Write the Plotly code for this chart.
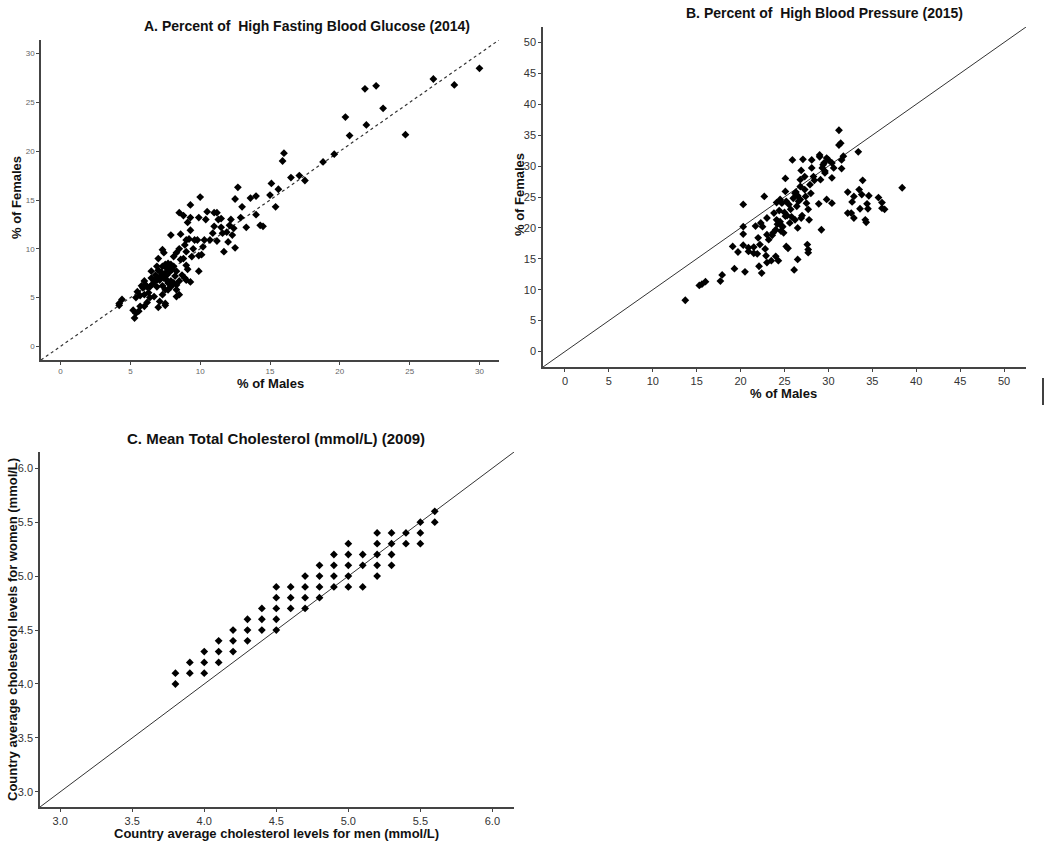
import plotly.graph_objects as go

# A. High fasting blood glucose (2014), % of males vs % of females
glucose_male = [
    30.0, 28.2, 26.7, 24.7, 23.1, 22.6, 21.8, 21.9, 20.7, 20.4, 19.6, 18.8, 17.5, 17.1,
    16.5, 16.0, 15.9, 15.6, 15.1, 15.0, 15.4, 14.0, 13.6, 14.0, 14.3, 14.5, 13.3, 13.0,
    12.9, 12.7, 12.5, 12.5, 12.4, 12.3, 12.2, 12.1, 11.9, 12.0, 11.7, 11.6, 11.5, 11.5,
    11.3, 11.2, 11.0, 11.0, 11.2, 10.9, 10.7, 10.5, 10.4, 10.3, 10.2, 10.0, 9.9, 9.8,
    10.1, 9.9, 9.6, 9.9, 9.5, 9.3, 9.3, 9.3, 9.2, 9.0, 9.0, 9.4, 9.1, 8.8, 8.5, 8.6,
    8.9, 9.0, 9.1, 9.3, 9.0, 8.9, 7.9, 8.5, 8.3, 8.6, 8.8, 8.1, 7.3, 7.4, 7.0, 8.7,
    8.3, 8.5, 8.3, 8.5, 8.3, 8.1, 7.7, 7.8, 7.6, 7.5, 7.3, 7.4, 7.1, 7.0, 6.9, 7.3,
    7.5, 7.3, 6.9, 6.7, 6.5, 6.5, 6.2, 6.0, 5.8, 6.3, 6.7, 6.4, 6.0, 5.7, 5.5, 5.4,
    6.2, 6.0, 5.7, 5.6, 5.4, 5.3, 5.2, 7.0, 7.1, 7.5, 7.5, 4.4, 4.2, 4.2, 7.7, 7.9,
    8.1, 7.9, 7.7, 7.6, 7.9, 6.8, 6.4, 8.3, 8.2, 6.0, 6.9, 7.6, 7.5, 7.3, 7.2, 7.4,
    7.1, 7.6, 7.8, 6.6, 6.8, 8.0, 5.9, 6.1,
]
glucose_female = [
    28.5, 26.8, 27.4, 21.7, 24.4, 26.7, 26.4, 22.7, 21.6, 23.5, 19.7, 18.9, 17.0, 17.5,
    17.3, 19.8, 19.0, 16.1, 16.7, 15.5, 14.3, 15.4, 15.2, 13.5, 12.4, 12.3, 12.2, 14.3,
    13.2, 16.3, 15.1, 10.1, 12.1, 11.4, 13.0, 12.4, 11.7, 10.7, 9.7, 11.6, 12.2, 13.1,
    13.0, 13.7, 13.7, 12.3, 10.8, 11.6, 10.9, 13.8, 13.0, 10.9, 10.2, 15.3, 13.2, 10.9,
    9.4, 9.3, 10.9, 7.7, 10.0, 14.5, 13.2, 11.9, 11.0, 10.9, 9.7, 9.2, 12.7, 13.4, 13.7,
    11.5, 10.4, 8.3, 7.9, 6.6, 6.8, 7.0, 11.4, 10.0, 9.6, 8.9, 9.0, 9.2, 9.9, 9.6, 9.0,
    7.3, 7.7, 6.7, 5.8, 5.3, 5.1, 8.2, 8.5, 7.9, 7.3, 7.5, 7.2, 7.0, 6.8, 7.8, 8.2, 6.2,
    5.8, 5.3, 6.1, 6.6, 7.7, 7.0, 6.1, 6.7, 6.2, 5.5, 5.1, 5.0, 5.3, 5.2, 5.6, 5.0,
    4.5, 4.1, 4.1, 3.6, 3.4, 2.9, 3.7, 4.0, 4.6, 4.4, 4.2, 4.8, 4.4, 4.2, 5.8, 6.1,
    6.5, 6.7, 6.5, 8.0, 8.4, 7.3, 6.1, 6.3, 7.2, 6.1, 6.8, 6.8, 8.4, 8.2, 7.6, 7.4,
    7.1, 7.3, 7.6, 6.4, 6.9, 7.9, 6.0, 6.3,
]

# B. High blood pressure (2015), % of males vs % of females
bp_male = [
    13.7, 15.3, 15.6, 16.0, 17.7, 17.9, 19.3, 19.1, 19.7, 20.5, 20.3, 20.3, 20.3, 20.3,
    20.9, 20.9, 21.5, 21.5, 21.7, 21.9, 22.0, 22.2, 22.1, 22.4, 22.3, 22.5, 22.7, 22.8,
    22.9, 23.0, 23.0, 23.2, 23.0, 23.5, 23.7, 23.8, 24.0, 24.1, 24.0, 24.1, 24.3, 24.4,
    24.5, 24.7, 24.7, 24.9, 25.1, 25.1, 25.1, 25.2, 25.4, 25.2, 25.6, 25.7, 25.9, 26.1,
    26.2, 26.2, 26.4, 26.5, 26.5, 26.6, 26.8, 26.8, 26.9, 26.9, 27.1, 27.3, 27.3, 27.4,
    27.5, 27.6, 27.7, 27.7, 27.7, 27.8, 27.9, 28.0, 28.1, 28.1, 28.3, 28.4, 28.9, 29.0,
    29.1, 29.2, 29.3, 29.5, 29.6, 29.8, 29.8, 30.0, 30.4, 30.4, 30.4, 30.6, 31.2, 31.2,
    31.4, 31.5, 31.5, 31.7, 32.2, 32.2, 32.6, 32.7, 32.9, 32.9, 33.4, 33.5, 33.6, 33.8,
    33.9, 34.2, 34.4, 34.5, 34.6, 34.3, 35.7, 36.1, 36.1, 36.4, 38.4, 24.5, 25.0, 25.5,
    26.0, 26.3, 24.8, 25.8, 23.6, 24.2, 26.8, 27.0, 24.6, 25.3, 26.5, 29.4, 29.0, 29.6,
]
bp_female = [
    8.3, 10.7, 10.9, 11.3, 11.4, 12.4, 13.4, 17.0, 16.1, 12.9, 23.8, 20.2, 19.0, 17.2,
    16.8, 16.2, 16.9, 15.9, 20.3, 15.8, 18.4, 17.3, 13.8, 12.7, 20.8, 20.2, 25.1, 16.6,
    15.5, 21.6, 18.9, 18.1, 14.4, 14.7, 19.2, 22.4, 15.4, 24.1, 19.7, 21.3, 14.7, 22.8,
    24.6, 20.3, 24.0, 19.2, 25.9, 28.0, 21.9, 17.0, 16.7, 24.3, 20.8, 23.0, 31.0, 13.2,
    25.6, 21.3, 23.5, 14.9, 20.0, 24.3, 26.7, 27.8, 29.3, 21.6, 31.1, 28.3, 26.2, 25.1,
    24.0, 17.3, 16.5, 16.0, 23.0, 21.3, 27.0, 25.6, 31.0, 29.7, 28.3, 27.7, 23.9, 31.8,
    27.8, 19.7, 29.7, 30.5, 28.9, 31.3, 24.6, 31.0, 30.5, 24.0, 28.1, 29.7, 35.8, 33.4,
    33.7, 31.0, 29.6, 31.6, 25.8, 22.4, 22.4, 24.2, 25.1, 21.6, 32.3, 26.2, 23.1, 25.4,
    27.7, 21.3, 23.9, 23.1, 25.2, 20.9, 24.9, 24.1, 23.2, 23.0, 26.5, 21.0, 22.5, 23.8,
    24.8, 25.8, 20.2, 21.8, 18.8, 20.6, 24.6, 22.0, 19.5, 22.0, 25.2, 30.2, 31.5, 29.2,
]

# C. Mean total cholesterol (2009), men vs women (mmol/L)
chol_men = [
    3.8, 3.8, 3.9, 3.9, 4.0, 4.0, 4.0, 4.1, 4.1, 4.1, 4.2, 4.2, 4.2, 4.3, 4.3, 4.3,
    4.4, 4.4, 4.4, 4.5, 4.5, 4.5, 4.5, 4.5, 4.6, 4.6, 4.6, 4.7, 4.7, 4.7, 4.7,
    4.8, 4.8, 4.8, 4.8, 4.9, 4.9, 4.9, 4.9, 5.0, 5.0, 5.0, 5.0, 5.0, 5.1, 5.1, 5.1,
    5.2, 5.2, 5.2, 5.2, 5.2, 5.3, 5.3, 5.3, 5.3, 5.4, 5.4, 5.5, 5.5, 5.5, 5.6, 5.6,
]
chol_women = [
    4.1, 4.0, 4.2, 4.1, 4.3, 4.2, 4.1, 4.4, 4.3, 4.2, 4.5, 4.4, 4.3, 4.6, 4.5, 4.4,
    4.7, 4.6, 4.5, 4.9, 4.8, 4.7, 4.6, 4.5, 4.9, 4.8, 4.7, 5.0, 4.9, 4.8, 4.7,
    5.1, 5.0, 4.9, 4.8, 5.2, 5.1, 5.0, 4.9, 5.3, 5.2, 5.1, 5.0, 4.9, 5.2, 5.1, 4.9,
    5.4, 5.3, 5.2, 5.1, 5.0, 5.4, 5.3, 5.2, 5.1, 5.4, 5.3, 5.5, 5.4, 5.3, 5.6, 5.5,
]

# axis ranges (the y = x reference line runs corner to corner)
range_a = [-1.4, 31.4]
range_b = [-2.5, 52.5]
range_c = [2.86, 6.15]

W, H = 1050, 847


def px_x(p):
    return p / W


def px_y(p):
    return 1 - p / H


fig = go.Figure()

marker = dict(symbol="diamond", size=6, color="black")

fig.add_trace(go.Scatter(x=range_a, y=range_a, mode="lines", xaxis="x", yaxis="y",
                         line=dict(color="#333", width=1.2, dash="dot")))
fig.add_trace(go.Scatter(x=glucose_male, y=glucose_female, mode="markers",
                         xaxis="x", yaxis="y", marker=marker))

fig.add_trace(go.Scatter(x=range_b, y=range_b, mode="lines", xaxis="x2", yaxis="y2",
                         line=dict(color="#333", width=1)))
fig.add_trace(go.Scatter(x=bp_male, y=bp_female, mode="markers",
                         xaxis="x2", yaxis="y2", marker=marker))

fig.add_trace(go.Scatter(x=range_c, y=range_c, mode="lines", xaxis="x3", yaxis="y3",
                         line=dict(color="#333", width=1)))
fig.add_trace(go.Scatter(x=chol_men, y=chol_women, mode="markers",
                         xaxis="x3", yaxis="y3", marker=marker))

axis_common = dict(showgrid=False, zeroline=False, showline=True, linecolor="#444",
                   linewidth=1.5, ticks="outside", ticklen=3, tickcolor="#444")

fig.update_layout(
    width=W, height=H,
    margin=dict(l=0, r=0, t=0, b=0),
    paper_bgcolor="white", plot_bgcolor="white",
    showlegend=False,
    font=dict(family="Arial, Liberation Sans, sans-serif", color="#222"),
    xaxis=dict(axis_common, domain=[px_x(41), px_x(499)], range=range_a,
               tickvals=[0, 5, 10, 15, 20, 25, 30], anchor="y",
               tickfont=dict(size=8, color="#666")),
    yaxis=dict(axis_common, domain=[px_y(360), px_y(40)], range=range_a,
               tickvals=[0, 5, 10, 15, 20, 25, 30], anchor="x",
               tickfont=dict(size=8, color="#666")),
    xaxis2=dict(axis_common, domain=[px_x(543), px_x(1026)], range=range_b,
                dtick=5, anchor="y2", tickfont=dict(size=11, color="#333")),
    yaxis2=dict(axis_common, domain=[px_y(367), px_y(27)], range=range_b,
                dtick=5, anchor="x2", tickfont=dict(size=11, color="#333")),
    xaxis3=dict(axis_common, domain=[px_x(40), px_x(514)], range=range_c,
                dtick=0.5, tickformat=".1f", anchor="y3",
                tickfont=dict(size=11, color="#333")),
    yaxis3=dict(axis_common, domain=[px_y(807), px_y(452)], range=range_c,
                dtick=0.5, tickformat=".1f", anchor="x3",
                tickfont=dict(size=11, color="#333")),
)

labels = [
    ("A. Percent of  High Fasting Blood Glucose (2014)", 307, 26, 0, 14),
    ("% of Males", 270, 384, 0, 13),
    ("% of Females", 17, 198, -90, 13),
    ("B. Percent of  High Blood Pressure (2015)", 824, 13, 0, 14),
    ("% of Males", 783, 393, 0, 13),
    ("% of Females", 519, 195, -90, 13),
    ("C. Mean Total Cholesterol (mmol/L) (2009)", 276, 438, 0, 15),
    ("Country average cholesterol levels for men (mmol/L)", 276, 833, 0, 13),
    ("Country average cholesterol levels for women (mmol/L)", 12, 630, -90, 13),
]
for text, x, y, angle, size in labels:
    fig.add_annotation(text="<b>%s</b>" % text, x=px_x(x), y=px_y(y),
                       xref="paper", yref="paper", showarrow=False,
                       textangle=angle, xanchor="center", yanchor="middle",
                       font=dict(size=size, color="#111"))

# stray vertical mark at the right of panel B
fig.add_shape(type="line", xref="paper", yref="paper",
              x0=px_x(1043), x1=px_x(1043), y0=px_y(378), y1=px_y(405),
              line=dict(color="black", width=1.5))

# drop the default page margin so the figure sits at the window's corner
fig.write_html("out.html", config={"displayModeBar": False},
               post_script="document.body.style.margin = '0px';")
